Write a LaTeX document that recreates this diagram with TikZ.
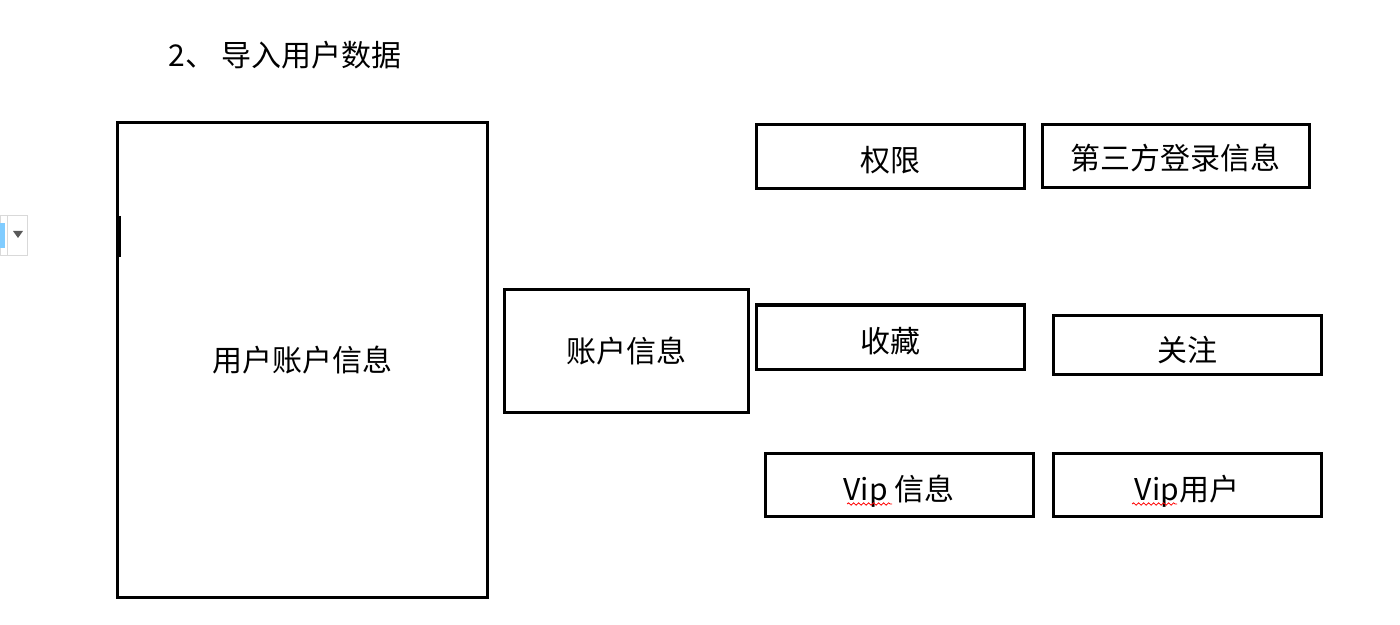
\documentclass[tikz,border=0pt]{standalone}
\usepackage{fontspec}
\setmainfont{Noto Sans CJK SC}
\usetikzlibrary{decorations.pathmorphing}
\begin{document}
\begin{tikzpicture}[x=0.5pt,y=-0.5pt,
    box/.style={draw,line width=1.5pt,inner sep=0pt,text depth=0pt,text height=11.4pt,font=\fontsize{15pt}{18pt}\selectfont},
    squiggle/.style={red,line width=0.4pt,decorate,decoration={snake,amplitude=0.6pt,segment length=2.5pt}}]
  \useasboundingbox (0,0) rectangle (1400,625);
  \node[anchor=west,inner sep=0pt,font=\fontsize{15pt}{18pt}\selectfont] (title) at (168,55) {2、 导入用户数据};
  \node[box,minimum width=185pt,minimum height=237pt] (user) at (302,360) {用户账户信息};
  \node[box,minimum width=122pt,minimum height=61pt] (acct) at (626,351) {账户信息};
  \node[box,minimum width=134pt,minimum height=32pt,text height=14.4pt] (perm) at (890,157) {权限};
  \node[box,minimum width=133.5pt,minimum height=31.5pt,text height=13.4pt] (third) at (1175.5,156.5) {第三方登录信息};
  \node[box,minimum width=134pt,minimum height=32pt,text height=15.4pt] (fav) at (890,337) {收藏};
  \node[box,minimum width=134pt,minimum height=29.5pt,text height=17.4pt] (follow) at (1187,344.5) {关注};
  \node[box,minimum width=134pt,minimum height=31.5pt,text height=16.4pt] (vipinfo) at (899,484.5) {Vip 信息};
  \node[box,minimum width=134pt,minimum height=31.5pt,text height=16.4pt] (vipuser) at (1187,484.5) {Vip用户};
  \draw[squiggle] (847,504) -- (892,504);
  \draw[squiggle] (1132,504) -- (1177,504);
  % cursor and dropdown
  \draw[line width=1.2pt] (120,216) -- (120,257);
  \draw[gray!30] (0,215) rectangle (27,255);
  \draw[gray!30] (7,215) -- (7,255);
  \fill[blue!40!cyan!50] (0,223) rectangle (5,248);
  \fill[gray!70!black] (13,231) -- (23,231) -- (18,238) -- cycle;
\end{tikzpicture}
\end{document}
